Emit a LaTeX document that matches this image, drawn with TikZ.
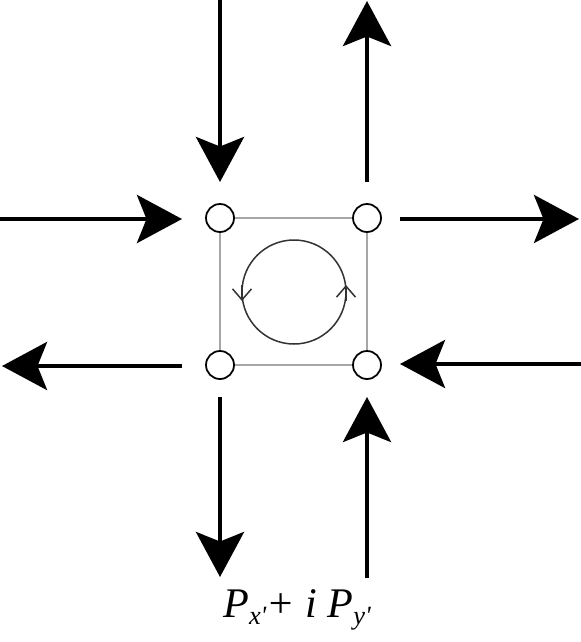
\documentclass[tikz,border=0pt]{standalone}
\usepackage{fontspec}
\newfontfamily\labfont{Liberation Serif}
\usetikzlibrary{arrows.meta}

\begin{document}
\begin{tikzpicture}[x=0.02cm, y=-0.02cm, line cap=butt,
  bigarrow/.style={line width=0.09cm, -{Stealth[length=0.9cm, width=0.96cm, inset=0.19cm]}},
  site/.style={circle, draw, line width=0.035cm, fill=white, minimum size=0.56cm, inner sep=0pt},
  bond/.style={gray!70, line width=0.025cm}]

\useasboundingbox (0,0) rectangle (581,642);

% plaquette
\node[site] (tl) at (220,218) {};
\node[site] (tr) at (367,218) {};
\node[site] (bl) at (220,365) {};
\node[site] (br) at (367,365) {};
\draw[bond] (tl) -- (tr) -- (br) -- (bl) -- (tl);

% circulation
\coordinate (ring) at (294,292);
\draw[black!80, line width=0.03cm] (ring) circle (52);
\draw[black!80, line width=0.03cm, -{Straight Barb[length=0.22cm, width=0.38cm]}] (242,285) -- (242,301);
\draw[black!80, line width=0.03cm, -{Straight Barb[length=0.22cm, width=0.38cm]}] (346,301) -- (346,285);

% free ends of the currents
\coordinate (n1) at (220,0);   \coordinate (n1e) at (220,182);
\coordinate (n2) at (367,182); \coordinate (n2e) at (367,1);
\coordinate (w1) at (0,219);   \coordinate (w1e) at (182,219);
\coordinate (e1) at (400,219); \coordinate (e1e) at (579,219);
\coordinate (w2) at (182,366); \coordinate (w2e) at (2,366);
\coordinate (e2) at (581,364); \coordinate (e2e) at (400,364);
\coordinate (s1) at (220,397); \coordinate (s1e) at (220,577);
\coordinate (s2) at (367,578); \coordinate (s2e) at (367,397);

\draw[bigarrow] (n1) -- (n1e);
\draw[bigarrow] (n2) -- (n2e);
\draw[bigarrow] (w1) -- (w1e);
\draw[bigarrow] (e1) -- (e1e);
\draw[bigarrow] (w2) -- (w2e);
\draw[bigarrow] (e2) -- (e2e);
\draw[bigarrow] (s1) -- (s1e);
\draw[bigarrow] (s2) -- (s2e);

\node[font=\labfont\itshape\fontsize{24}{28}\selectfont] (lab) at (297,610)
  {P\raisebox{-0.35ex}{\fontsize{15}{18}\selectfont x'}+ i P\raisebox{-0.35ex}{\fontsize{15}{18}\selectfont y'}};

\end{tikzpicture}
\end{document}
